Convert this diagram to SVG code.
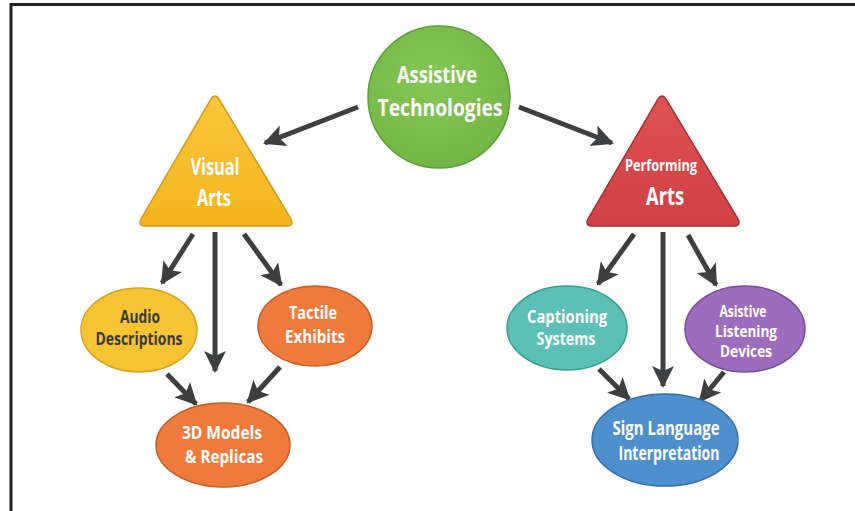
<svg xmlns="http://www.w3.org/2000/svg" width="855" height="511" viewBox="0 0 855 511">
<defs>
<style>
.t{font-family:"Open Sans","Noto Sans","Liberation Sans",sans-serif;font-weight:700;text-anchor:middle;fill:#ffffff}
.dk{fill:#3b3b3b}
.c{fill:none;stroke:#3d3f41;stroke-width:5}
</style>
<marker id="ah" markerUnits="userSpaceOnUse" markerWidth="24" markerHeight="24" refX="20" refY="11" orient="auto" viewBox="0 0 24 22">
<path d="M0,0 L22,11 L0,22 L5,11 Z" fill="#3d3f41"/>
</marker>
<radialGradient id="gG" cx="0.45" cy="0.4" r="0.7"><stop offset="0" stop-color="#86c856"/><stop offset="1" stop-color="#6fb443"/></radialGradient>
<linearGradient id="gY" x1="0" y1="0" x2="0" y2="1"><stop offset="0" stop-color="#f9c63a"/><stop offset="1" stop-color="#f3b51f"/></linearGradient>
<linearGradient id="gR" x1="0" y1="0" x2="0" y2="1"><stop offset="0" stop-color="#df5254"/><stop offset="1" stop-color="#d04044"/></linearGradient>
</defs>
<rect x="0" y="0" width="855" height="511" fill="#ffffff"/>
<path d="M11,511 L11,4.5 L855,4.5" fill="none" stroke="#222222" stroke-width="3"/>

<g id="connectors">
<line class="c" x1="358" y1="107" x2="265" y2="143" marker-end="url(#ah)"/>
<line class="c" x1="519" y1="107" x2="612" y2="143" marker-end="url(#ah)"/>
<line class="c" x1="193" y1="234" x2="162" y2="283" marker-end="url(#ah)"/>
<line class="c" x1="215" y1="232" x2="215" y2="371" marker-end="url(#ah)"/>
<line class="c" x1="244" y1="234" x2="281" y2="285" marker-end="url(#ah)"/>
<line class="c" x1="167" y1="374" x2="196" y2="404" marker-end="url(#ah)"/>
<line class="c" x1="280" y1="367" x2="248" y2="402" marker-end="url(#ah)"/>
<line class="c" x1="634" y1="234" x2="598" y2="284" marker-end="url(#ah)"/>
<line class="c" x1="663" y1="232" x2="663" y2="386" marker-end="url(#ah)"/>
<line class="c" x1="688" y1="235" x2="716" y2="285" marker-end="url(#ah)"/>
<line class="c" x1="599" y1="369" x2="629" y2="399" marker-end="url(#ah)"/>
<line class="c" x1="724" y1="372" x2="700" y2="401" marker-end="url(#ah)"/>
</g>

<g id="assistive">
<circle cx="439" cy="97" r="71" fill="url(#gG)" stroke="#5e9e37" stroke-width="1.5"/>
<text class="t" x="437" y="83" font-size="24" textLength="80" lengthAdjust="spacingAndGlyphs">Assistive</text>
<text class="t" x="440" y="116" font-size="24" textLength="125" lengthAdjust="spacingAndGlyphs">Technologies</text>
</g>

<g id="visual">
<path d="M210.5,99.8 Q215,92 219.5,99.8 L290.5,218.2 Q295,226 286,226 L146,226 Q137,226 141.5,218.2 Z" fill="url(#gY)" stroke="#d69a16" stroke-width="1.5"/>
<text class="t" x="215" y="175" font-size="24" textLength="49" lengthAdjust="spacingAndGlyphs">Visual</text>
<text class="t" x="214" y="206" font-size="24" textLength="34" lengthAdjust="spacingAndGlyphs">Arts</text>
</g>

<g id="performing">
<path transform="translate(447,0)" d="M210.5,99.8 Q215,92 219.5,99.8 L290.5,218.2 Q295,226 286,226 L146,226 Q137,226 141.5,218.2 Z" fill="url(#gR)" stroke="#a83034" stroke-width="1.5"/>
<text class="t" x="661" y="171" font-size="16" textLength="72" lengthAdjust="spacingAndGlyphs">Performing</text>
<text class="t" x="665" y="205" font-size="25" textLength="38" lengthAdjust="spacingAndGlyphs">Arts</text>
</g>

<g id="audio">
<ellipse cx="139" cy="330" rx="58" ry="42" fill="#f6c432" stroke="#d9a31c" stroke-width="1.5"/>
<text class="t dk" x="140" y="323" font-size="17" textLength="40" lengthAdjust="spacingAndGlyphs">Audio</text>
<text class="t dk" x="139" y="345" font-size="17" textLength="87" lengthAdjust="spacingAndGlyphs">Descriptions</text>
</g>

<g id="tactile">
<ellipse cx="315" cy="326" rx="57" ry="40" fill="#ee7a3d" stroke="#c95e25" stroke-width="1.5"/>
<text class="t" x="313" y="319" font-size="17" textLength="48" lengthAdjust="spacingAndGlyphs">Tactile</text>
<text class="t" x="315" y="343" font-size="17" textLength="60" lengthAdjust="spacingAndGlyphs">Exhibits</text>
</g>

<g id="models">
<ellipse cx="223" cy="445" rx="67" ry="42" fill="#ee7a3b" stroke="#c65d23" stroke-width="1.5"/>
<text class="t" x="222" y="439" font-size="17" textLength="80" lengthAdjust="spacingAndGlyphs">3D Models</text>
<text class="t" x="224" y="463" font-size="17" textLength="78" lengthAdjust="spacingAndGlyphs">&amp; Replicas</text>
</g>

<g id="captioning">
<ellipse cx="567" cy="328" rx="60" ry="42" fill="#5cc0b5" stroke="#3b9d93" stroke-width="1.5"/>
<text class="t" x="567" y="323" font-size="17" textLength="80" lengthAdjust="spacingAndGlyphs">Captioning</text>
<text class="t" x="566" y="345" font-size="17" textLength="59" lengthAdjust="spacingAndGlyphs">Systems</text>
</g>

<g id="listening">
<ellipse cx="745" cy="329" rx="60" ry="43" fill="#9c6cbd" stroke="#7a4c9c" stroke-width="1.5"/>
<text class="t" x="743" y="317" font-size="16" textLength="47" lengthAdjust="spacingAndGlyphs">Asistive</text>
<text class="t" x="746" y="337" font-size="16" textLength="62" lengthAdjust="spacingAndGlyphs">Listening</text>
<text class="t" x="746" y="357" font-size="16" textLength="52" lengthAdjust="spacingAndGlyphs">Devices</text>
</g>

<g id="sign">
<ellipse cx="665" cy="440" rx="73" ry="46" fill="#4e90cd" stroke="#326fa8" stroke-width="1.5"/>
<text class="t" x="666" y="435" font-size="19" textLength="107" lengthAdjust="spacingAndGlyphs">Sign Language</text>
<text class="t" x="669" y="460" font-size="19" textLength="101" lengthAdjust="spacingAndGlyphs">Interpretation</text>
</g>
</svg>
